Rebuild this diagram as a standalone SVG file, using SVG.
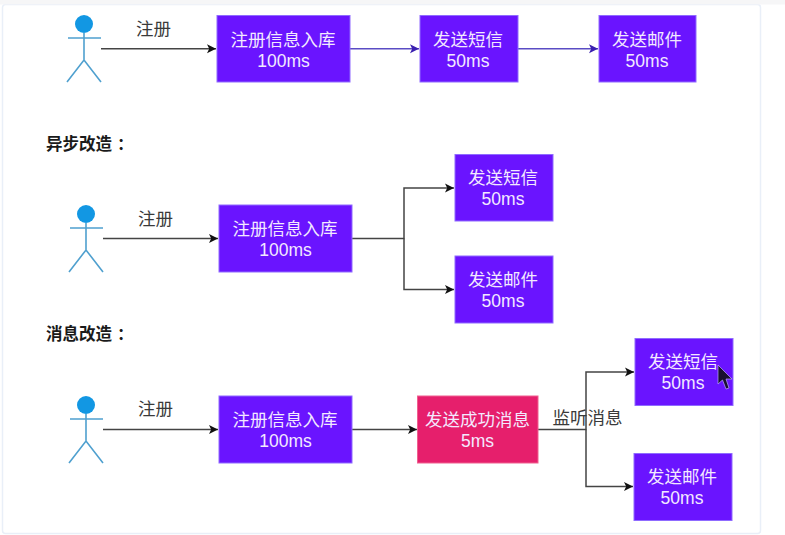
<svg xmlns="http://www.w3.org/2000/svg" width="785" height="535" viewBox="0 0 785 535">
<style>
text{font-family:"Liberation Sans","Noto Sans CJK SC",sans-serif;text-anchor:middle}
.box{stroke:#8f6bff;stroke-width:1}
.p{fill:#6a14ff}
.r{fill:#e61f6c;stroke:#f0608f;stroke-width:1}
.t{fill:#f3e9ff;font-size:17.5px}
.l{fill:#3a3a3a;font-size:17.500px}
.h{fill:#1a1a1a;font-size:16.500px;font-weight:bold;text-anchor:start}
.a{fill:none;stroke:#4fa0cf;stroke-width:1.6}
.c{fill:none;stroke:#444;stroke-width:1.5}
.v{fill:none;stroke:#5a4cc4;stroke-width:1.5}
</style>
<defs>
<marker id="k" markerUnits="userSpaceOnUse" markerWidth="10" markerHeight="12" refX="9" refY="6" orient="auto"><path d="M0 1.500 L9 6 L0 10.500 L2.200 6Z" fill="#111"/></marker>
<marker id="b" markerUnits="userSpaceOnUse" markerWidth="10" markerHeight="12" refX="9" refY="6" orient="auto"><path d="M0 1.500 L9 6 L0 10.500 L2.200 6Z" fill="#3a1fb0"/></marker>
<g id="actor"><circle cx="0" cy="0" r="9" fill="#1297e3"/><path class="a" d="M-16 14H17M0 9V36M-17 58L0 36L17 58"/></g>
</defs>
<rect width="785" height="535" fill="#fff"/>
<rect x="2.500" y="4.500" width="758" height="529" rx="3" fill="#fff" stroke="#e9eff8" stroke-width="1.500"/>
<rect x="0" y="0" width="785" height="4.500" fill="#f6f6f7"/>

<g id="connectors">
<path class="c" d="M101 48.700H216" marker-end="url(#k)"/>
<path class="v" d="M350 48.700H419" marker-end="url(#b)"/>
<path class="v" d="M518 48.700H598" marker-end="url(#b)"/>
<path class="c" d="M103 238.500H218" marker-end="url(#k)"/>
<path class="c" d="M352 238.500H404V188H454" marker-end="url(#k)"/>
<path class="c" d="M404 238.500V289.500H454" marker-end="url(#k)"/>
<path class="c" d="M103 429.500H218" marker-end="url(#k)"/>
<path class="c" d="M352 429.500H417" marker-end="url(#k)"/>
<path class="c" d="M538 429.500H586V372H634" marker-end="url(#k)"/>
<path class="c" d="M586 429.500V486.500H633" marker-end="url(#k)"/>
</g>

<g id="labels">
<text class="l" x="153.500" y="34.500">注册</text>
<text class="l" x="155.500" y="224.500">注册</text>
<text class="l" x="155.500" y="414.500">注册</text>
<text class="l" x="587.500" y="424">监听消息</text>
<text class="h" x="46" y="150">异步改造<tspan dx="5">：</tspan></text>
<text class="h" x="46" y="340">消息改造<tspan dx="5">：</tspan></text>
</g>

<g id="actor1"><use href="#actor" x="84" y="24"/></g>
<g id="actor2"><use href="#actor" x="86" y="214"/></g>
<g id="actor3"><use href="#actor" x="86" y="405"/></g>

<g id="n1"><rect class="box p" x="217" y="15.500" width="133" height="66.500"/><text class="t" x="283" y="46">注册信息入库</text><text class="t" x="283.500" y="67">100ms</text></g>
<g id="n2"><rect class="box p" x="420" y="15.500" width="98" height="66.500"/><text class="t" x="468" y="46">发送短信</text><text class="t" x="468" y="67">50ms</text></g>
<g id="n3"><rect class="box p" x="599" y="15.500" width="97" height="66.500"/><text class="t" x="647" y="46">发送邮件</text><text class="t" x="647" y="67">50ms</text></g>

<g id="n4"><rect class="box p" x="219" y="205" width="133" height="67"/><text class="t" x="285" y="235">注册信息入库</text><text class="t" x="285.500" y="256">100ms</text></g>
<g id="n5"><rect class="box p" x="455" y="154.500" width="98" height="66.500"/><text class="t" x="503" y="184">发送短信</text><text class="t" x="503" y="205">50ms</text></g>
<g id="n6"><rect class="box p" x="455" y="256" width="98" height="67"/><text class="t" x="503" y="286">发送邮件</text><text class="t" x="503" y="307">50ms</text></g>

<g id="n7"><rect class="box p" x="219" y="396" width="133" height="67"/><text class="t" x="285" y="426">注册信息入库</text><text class="t" x="285.500" y="447">100ms</text></g>
<g id="n8"><rect class="r" x="417.500" y="396" width="120.500" height="67"/><text class="t" x="477.500" y="426">发送成功消息</text><text class="t" x="477.500" y="447">5ms</text></g>
<g id="n9"><rect class="box p" x="635" y="338.500" width="98" height="67"/><text class="t" x="683" y="368">发送短信</text><text class="t" x="683" y="389">50ms</text></g>
<g id="n10"><rect class="box p" x="634" y="453.500" width="98" height="67"/><text class="t" x="682" y="483">发送邮件</text><text class="t" x="682" y="504">50ms</text></g>

<path d="M718 365V384L722.500 380L726 389L729 388L726 379L732 379Z" fill="#1a1030" stroke="#b9a6ff" stroke-width=".7"/>
</svg>
